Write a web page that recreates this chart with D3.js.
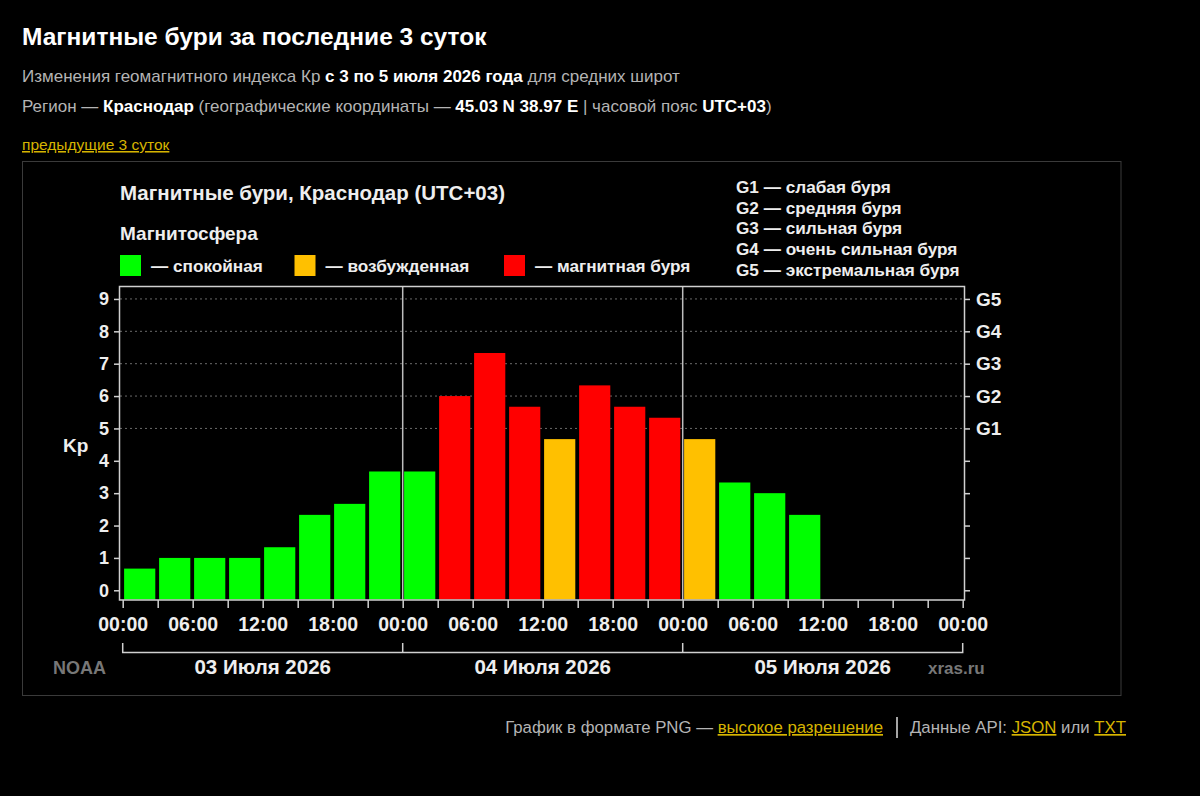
<!DOCTYPE html>
<html>
<head>
<meta charset="utf-8">
<script src="https://cdn.jsdelivr.net/npm/d3@7"></script>
<style>
	body { margin: 0; background: #000; }
	svg text { font-family: "Liberation Sans", Arial, sans-serif; }
</style>
</head>
<body>
<div id="chart-area"></div>
<script>
// DATA
var kpValues = [0.67, 1, 1, 1, 1.33, 2.33, 2.67, 3.67,
	3.67, 6, 7.33, 5.67, 4.67, 6.33, 5.67, 5.33,
	4.67, 3.33, 3, 2.33];
var kpTicks = [0, 1, 2, 3, 4, 5, 6, 7, 8, 9];
var gLabels = ["G1", "G2", "G3", "G4", "G5"];
var gLevels = [5, 6, 7, 8, 9];
var gLegend = ["G1 — слабая буря", "G2 — средняя буря", "G3 — сильная буря",
	"G4 — очень сильная буря", "G5 — экстремальная буря"];
var stateLegend = ["— спокойная", "— возбужденная", "— магнитная буря"];
var hourLabels = ["00:00", "06:00", "12:00", "18:00"];
var dayLabels = ["03 Июля 2026", "04 Июля 2026", "05 Июля 2026"];

var stateColors = ["#00ff00", "#ffc000", "#ff0000"];
var font = "'Liberation Sans', Arial, sans-serif";

var svg = d3.select("#chart-area")
	.append("svg")
	.attr("width", 1200)
	.attr("height", 796);

// PAGE HEADER
svg.append("text")
	.attr("x", 22).attr("y", 45)
	.attr("font-size", "24.5px").attr("font-weight", "bold")
	.attr("fill", "#fff")
	.text("Магнитные бури за последние 3 суток");

var line1 = svg.append("text")
	.attr("x", 22).attr("y", 81.5)
	.attr("font-size", "17px").attr("fill", "#b4b4b4");
line1.append("tspan").text("Изменения геомагнитного индекса Кр ");
line1.append("tspan").attr("font-weight", "bold").attr("fill", "#fff").text("с 3 по 5 июля 2026 года");
line1.append("tspan").text(" для средних широт");

var line2 = svg.append("text")
	.attr("x", 22).attr("y", 111.5)
	.attr("font-size", "17px").attr("fill", "#b4b4b4");
line2.append("tspan").text("Регион — ");
line2.append("tspan").attr("font-weight", "bold").attr("fill", "#fff").text("Краснодар");
line2.append("tspan").text(" (географические координаты — ");
line2.append("tspan").attr("font-weight", "bold").attr("fill", "#fff").text("45.03 N 38.97 E");
line2.append("tspan").text(" | часовой пояс ");
line2.append("tspan").attr("font-weight", "bold").attr("fill", "#fff").text("UTC+03");
line2.append("tspan").text(")");

svg.append("text")
	.attr("x", 22).attr("y", 150)
	.attr("font-size", "15.5px").attr("fill", "#d6b400")
	.attr("text-decoration", "underline")
	.text("предыдущие 3 суток");

// PANEL
svg.append("rect")
	.attr("x", 22.5).attr("y", 161.5)
	.attr("width", 1098.5).attr("height", 534)
	.attr("fill", "#000")
	.attr("stroke", "#3a3a3a");

// SCALES
var x = d3.scaleLinear()
	.domain([0, 72])
	.range([122.7, 962.7]);

var y = d3.scaleLinear()
	.domain([-0.3, 9.4])
	.range([600, 286]);

function kpColor(v) {
	if (v >= 5) return stateColors[2];
	if (v >= 4) return stateColors[1];
	return stateColors[0];
}

var g = svg.append("g");

// CHART TITLE & LEGEND
g.append("text")
	.attr("x", 120).attr("y", 200)
	.attr("font-size", "20.5px").attr("font-weight", "bold").attr("fill", "#eee")
	.text("Магнитные бури, Краснодар (UTC+03)");

g.append("text")
	.attr("x", 120).attr("y", 240)
	.attr("font-size", "19px").attr("font-weight", "bold").attr("fill", "#eee")
	.text("Магнитосфера");

var legendX = [120, 294.5, 504];
var legend = g.selectAll(".state-legend")
	.data(stateLegend)
	.enter().append("g")
	.attr("class", "state-legend")
	.attr("transform", function (d, i) { return "translate(" + legendX[i] + ",255)"; });
legend.append("rect")
	.attr("width", 21).attr("height", 21)
	.attr("fill", function (d, i) { return stateColors[i]; });
legend.append("text")
	.attr("x", 31).attr("y", 16.5)
	.attr("font-size", "17.2px").attr("font-weight", "bold").attr("fill", "#eee")
	.text(function (d) { return d; });

g.selectAll(".g-legend")
	.data(gLegend)
	.enter().append("text")
	.attr("class", "g-legend")
	.attr("x", 736)
	.attr("y", function (d, i) { return 192.8 + i * 20.8; })
	.attr("font-size", "17.2px").attr("font-weight", "bold").attr("fill", "#eee")
	.text(function (d) { return d; });

// GRID (G LEVELS)
g.selectAll(".grid")
	.data(gLevels)
	.enter().append("line")
	.attr("class", "grid")
	.attr("x1", 120).attr("x2", 964)
	.attr("y1", function (d) { return y(d); })
	.attr("y2", function (d) { return y(d); })
	.attr("stroke", "#6a6a6a")
	.attr("stroke-dasharray", "2,3");

// DAY SEPARATORS
g.selectAll(".day-sep")
	.data([24, 48])
	.enter().append("line")
	.attr("class", "day-sep")
	.attr("x1", function (d) { return x(d); })
	.attr("x2", function (d) { return x(d); })
	.attr("y1", 286).attr("y2", 600)
	.attr("stroke", "#bdbdbd")
	.attr("stroke-width", 1.5);

// BARS
g.selectAll(".bar")
	.data(kpValues)
	.enter().append("rect")
	.attr("class", "bar")
	.attr("x", function (d, i) { return x(i * 3) + 1.4; })
	.attr("width", function (d, i) { return x(i * 3 + 3) - x(i * 3) - 3.8; })
	.attr("y", function (d) { return y(d); })
	.attr("height", function (d) { return 599.5 - y(d); })
	.attr("fill", function (d) { return kpColor(d); });

// FRAME
g.append("rect")
	.attr("x", 119.5).attr("y", 286.5)
	.attr("width", 845).attr("height", 313.5)
	.attr("fill", "none")
	.attr("stroke", "#d0d0d0")
	.attr("stroke-width", 1.5);

// LEFT AXIS
var yAxisCall = d3.axisLeft(y)
	.tickValues(kpTicks)
	.tickSize(5)
	.tickPadding(5)
	.tickFormat(d3.format("d"));
var yAxis = g.append("g")
	.attr("transform", "translate(119,0)")
	.call(yAxisCall);

// RIGHT AXIS
var gAxisCall = d3.axisRight(y)
	.tickValues(kpTicks)
	.tickSize(5)
	.tickPadding(6)
	.tickFormat(function (d) {
		var k = gLevels.indexOf(d);
		return k < 0 ? "" : gLabels[k];
	});
var gAxis = g.append("g")
	.attr("transform", "translate(965,0)")
	.call(gAxisCall);

// BOTTOM AXIS
var xAxisCall = d3.axisBottom(x)
	.tickValues(d3.range(0, 73, 3))
	.tickSize(8)
	.tickPadding(9)
	.tickFormat(function (d) {
		return d % 6 === 0 ? hourLabels[(d % 24) / 6] : "";
	});
var xAxis = g.append("g")
	.attr("transform", "translate(0,600)")
	.call(xAxisCall);

[yAxis, gAxis, xAxis].forEach(function (a) {
	a.select(".domain").remove();
	a.selectAll("line").attr("stroke", "#d0d0d0").attr("stroke-width", 1.5);
	a.selectAll("text")
		.attr("fill", "#eee")
		.attr("font-family", font)
		.attr("font-weight", "bold")
		.attr("font-size", "18px");
});
gAxis.selectAll("text").attr("font-size", "19px");
xAxis.selectAll("text").attr("font-size", "19.5px");

// Kp LABEL
g.append("text")
	.attr("x", 63).attr("y", 452)
	.attr("font-size", "19px").attr("font-weight", "bold").attr("fill", "#eee")
	.text("Kp");

// DAY BRACKETS
var dayBounds = [0, 24, 48, 72];
g.append("path")
	.attr("d", "M" + x(0) + ",643V652.5H" + x(72) + "V643")
	.attr("fill", "none")
	.attr("stroke", "#d0d0d0")
	.attr("stroke-width", 1.5);
g.selectAll(".day-tick")
	.data(dayBounds.slice(1, 3))
	.enter().append("line")
	.attr("class", "day-tick")
	.attr("x1", function (d) { return x(d); })
	.attr("x2", function (d) { return x(d); })
	.attr("y1", 643).attr("y2", 652.5)
	.attr("stroke", "#d0d0d0")
	.attr("stroke-width", 1.5);

g.selectAll(".day-label")
	.data(dayLabels)
	.enter().append("text")
	.attr("class", "day-label")
	.attr("x", function (d, i) { return x(dayBounds[i] + 12); })
	.attr("y", 674)
	.attr("text-anchor", "middle")
	.attr("font-size", "20.5px").attr("font-weight", "bold").attr("fill", "#eee")
	.text(function (d) { return d; });

g.append("text")
	.attr("x", 53).attr("y", 674)
	.attr("font-size", "18px").attr("font-weight", "bold").attr("fill", "#777")
	.text("NOAA");
g.append("text")
	.attr("x", 928).attr("y", 674)
	.attr("font-size", "17px").attr("font-weight", "bold").attr("fill", "#777")
	.text("xras.ru");

// FOOTER
var foot1 = svg.append("text")
	.attr("x", 883).attr("y", 733)
	.attr("text-anchor", "end")
	.attr("font-size", "16.8px").attr("fill", "#b4b4b4");
foot1.append("tspan").text("График в формате PNG — ");
foot1.append("tspan").attr("fill", "#d6b400").attr("text-decoration", "underline").text("высокое разрешение");

svg.append("line")
	.attr("x1", 897).attr("x2", 897)
	.attr("y1", 717).attr("y2", 738)
	.attr("stroke", "#ddd").attr("stroke-width", 1.5);

var foot2 = svg.append("text")
	.attr("x", 1126).attr("y", 733)
	.attr("text-anchor", "end")
	.attr("font-size", "16.8px").attr("fill", "#b4b4b4");
foot2.append("tspan").text("Данные API: ");
foot2.append("tspan").attr("fill", "#d6b400").attr("text-decoration", "underline").text("JSON");
foot2.append("tspan").text(" или ");
foot2.append("tspan").attr("fill", "#d6b400").attr("text-decoration", "underline").text("TXT");
</script>
</body>
</html>
